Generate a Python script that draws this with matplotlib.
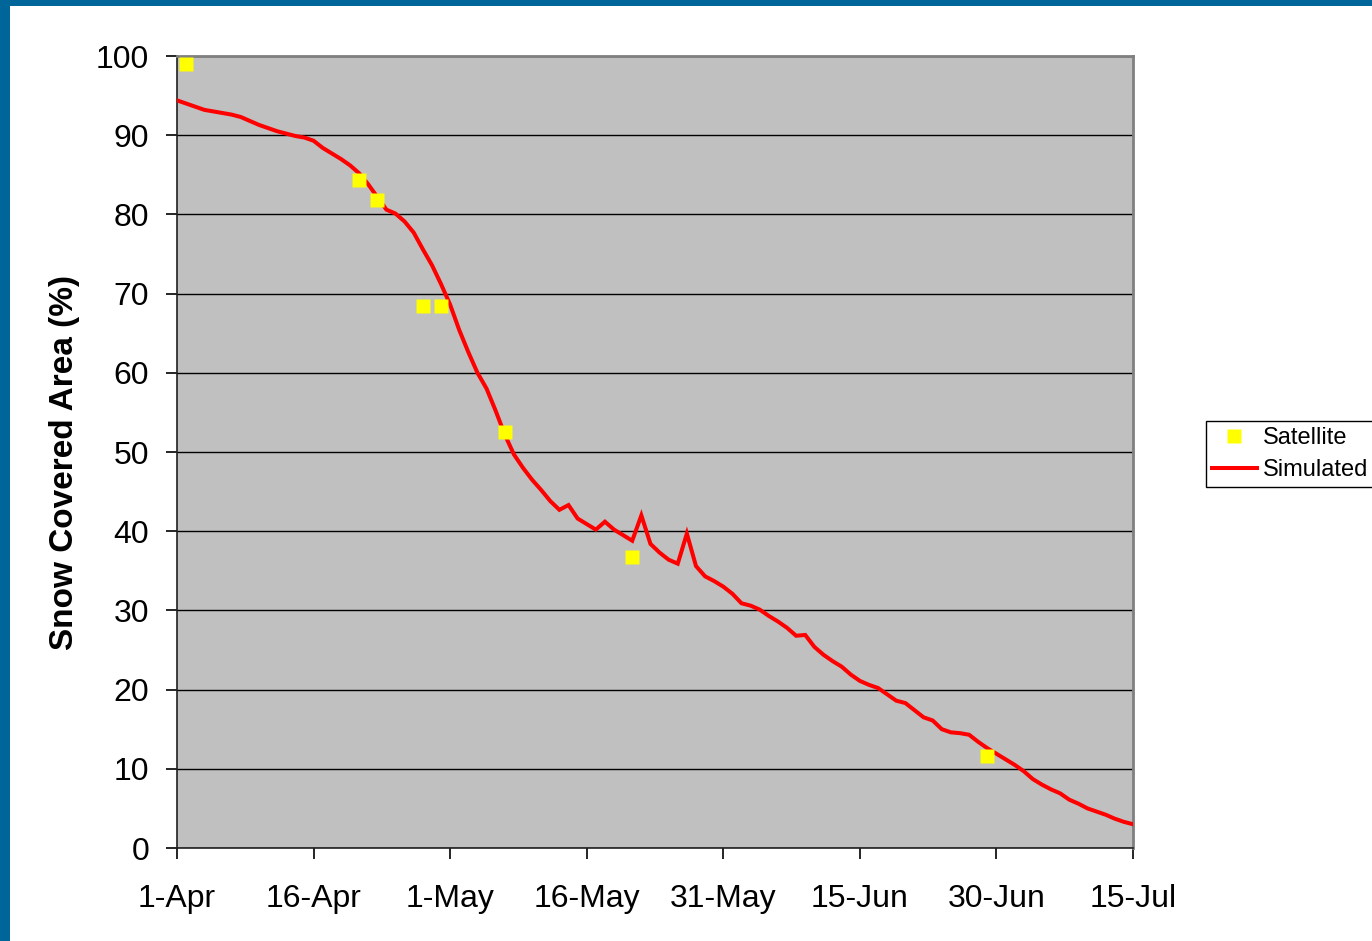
import matplotlib
matplotlib.use("Agg")
import matplotlib.pyplot as plt
import numpy as np
from matplotlib.patches import Rectangle
from matplotlib.lines import Line2D

plt.rcParams['font.family'] = ['Liberation Sans', 'DejaVu Sans']

# Date axis: days since 1-Apr, labelled every 15 days
tick_days = [0, 15, 30, 45, 60, 75, 90, 105]
tick_labels = ["1-Apr", "16-Apr", "1-May", "16-May", "31-May", "15-Jun", "30-Jun", "15-Jul"]

# Simulated snow covered area (%), one value per day from 1-Apr to 15-Jul
simulated = [
    94.4, 94.0, 93.6, 93.2, 93.0, 92.8, 92.6, 92.3, 91.8, 91.3,
    90.9, 90.5, 90.2, 89.9, 89.7, 89.3, 88.4, 87.7, 87.0, 86.2,
    85.2, 83.8, 82.2, 80.6, 80.1, 79.1, 77.7, 75.6, 73.6, 71.2,
    68.6, 65.4, 62.6, 60.0, 58.0, 55.2, 52.2, 49.7, 48.0, 46.5,
    45.2, 43.8, 42.7, 43.3, 41.6, 40.9, 40.2, 41.2, 40.2, 39.5,
    38.8, 42.0, 38.4, 37.3, 36.4, 35.9, 39.7, 35.6, 34.3, 33.7,
    33.0, 32.1, 30.9, 30.6, 30.1, 29.3, 28.6, 27.8, 26.8, 26.9,
    25.4, 24.4, 23.6, 22.9, 21.9, 21.1, 20.6, 20.2, 19.4, 18.6,
    18.3, 17.4, 16.5, 16.1, 15.0, 14.6, 14.5, 14.3, 13.4, 12.6,
    11.9, 11.2, 10.5, 9.7, 8.7, 8.0, 7.4, 6.9, 6.1, 5.6,
    5.0, 4.6, 4.2, 3.7, 3.3, 3.0,
]

# Satellite observations (day since 1-Apr, snow covered area %)
satellite_days = [1, 20, 22, 27, 29, 36, 50, 89]
satellite_values = [99.0, 84.3, 81.8, 68.4, 68.4, 52.5, 36.8, 11.6]

sim_days = np.arange(len(simulated))

fig = plt.figure(figsize=(13.72, 9.41), dpi=100)
fig.patch.set_facecolor("white")

# Blue frame strips along the top and left edges
fig.patches.append(Rectangle((0, 1 - 6 / 941), 1, 6 / 941, transform=fig.transFigure,
                             facecolor="#006699", edgecolor="none", zorder=0))
fig.patches.append(Rectangle((0, 0), 10 / 1372, 1, transform=fig.transFigure,
                             facecolor="#006699", edgecolor="none", zorder=0))

ax = fig.add_axes([177 / 1372, 1 - 848 / 941, (1133 - 177) / 1372, (848 - 56) / 941])
ax.set_facecolor("#C0C0C0")

ax.plot(sim_days, simulated, color="#FF0000", linewidth=2.9, solid_joinstyle="miter",
        zorder=3)
ax.plot(satellite_days, satellite_values, linestyle="none", marker="s", markersize=10,
        markerfacecolor="#FFFF00", markeredgecolor="none", zorder=4)

ax.set_xlim(0, 105)
ax.set_ylim(0, 100)
ax.set_xticks(tick_days)
ax.set_xticklabels(tick_labels)
ax.set_yticks(np.arange(0, 101, 10))

ax.grid(axis="y", color="black", linewidth=1.0)
ax.set_axisbelow(True)

for side in ("top", "right"):
    ax.spines[side].set_color("#808080")
    ax.spines[side].set_linewidth(2.0)
for side in ("left", "bottom"):
    ax.spines[side].set_color("#202020")
    ax.spines[side].set_linewidth(1.2)

ax.tick_params(axis="x", direction="out", length=8, width=1.2, pad=18,
               labelsize=23, colors="black")
ax.tick_params(axis="y", direction="out", length=8, width=1.2, pad=12,
               labelsize=23, colors="black")

ax.set_ylabel("Snow Covered Area (%)", fontsize=24, fontweight="bold")
ax.yaxis.set_label_coords(-0.101, 0.487)

handles = [
    Line2D([], [], linestyle="none", marker="s", markersize=10,
           markerfacecolor="#FFFF00", markeredgecolor="none", label="Satellite"),
    Line2D([], [], color="#FF0000", linewidth=2.9, label="Simulated"),
]
leg = fig.legend(handles=handles, loc="center left",
                 bbox_to_anchor=(1206 / 1372, 1 - 454 / 941),
                 fontsize=17, frameon=True, fancybox=False, framealpha=1,
                 edgecolor="black", borderpad=0.25, labelspacing=0.42,
                 handlelength=1.9, handletextpad=0.25, borderaxespad=0)
leg.get_frame().set_linewidth(1.0)

fig.savefig("out.png", dpi=100)
